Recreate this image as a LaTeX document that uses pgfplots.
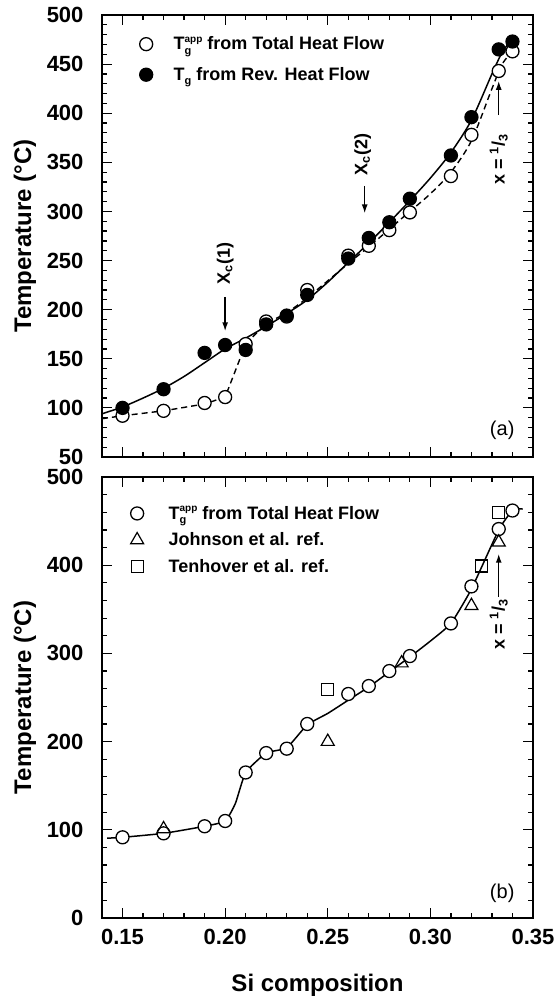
\documentclass[border=0pt]{standalone}
\usepackage{pgfplots}
\pgfplotsset{compat=1.18}
\usepackage{fontspec}
\setmainfont{Liberation Sans}
\usetikzlibrary{arrows.meta}
\newcommand{\Tsubsup}[2]{T\makebox[0pt][l]{\raisebox{-0.45ex}{\fontsize{11}{11}\selectfont #1}}\raisebox{0.8ex}{\fontsize{10}{10}\selectfont #2}}
\newcommand{\Tsub}[1]{T\raisebox{-0.45ex}{\fontsize{11}{11}\selectfont #1}}
\newcommand{\xthird}{x = \textsuperscript{1}/\textsubscript{3}}
\tikzset{
  annot/.style={rotate=90, font=\bfseries\fontsize{18}{18}\selectfont},
  arr/.style={line width=1.5pt, -{Latex[length=9pt,width=6pt]}},
}
\begin{document}
\begin{tikzpicture}
\useasboundingbox (0pt,0pt) rectangle (556pt,-1000pt);
\pgfplotsset{
  common/.style={
    scale only axis, width=431pt, height=442pt,
    xmin=0.14, xmax=0.35,
    xtick={0.15,0.2,0.25,0.3,0.35}, minor x tick num=4,
    axis line style={line width=1.5pt},
    every tick/.style={black, line width=1.2pt},
    major tick length=10pt, minor tick length=5pt,
    tick align=inside,
    xtick pos=both, ytick pos=both,
    tick label style={font=\bfseries\fontsize{22}{22}\selectfont},
    /pgf/number format/assume math mode=true,
    yticklabel style={xshift=-15pt},
    ylabel={Temperature (°C)},
    every axis y label/.style={font=\bfseries\fontsize{24}{24}\selectfont, rotate=90, anchor=center},
    legend cell align=left,
  },
  openc/.style={only marks, mark=*, mark size=6.5pt, mark options={fill=white, draw=black, line width=1.3pt}},
  fullc/.style={only marks, mark=*, mark size=6.5pt, mark options={fill=black, draw=black, line width=1.3pt}},
  tri/.style={only marks, mark=triangle, mark size=7.5pt, mark options={draw=black, line width=1.2pt}},
  sqr/.style={only marks, mark=square, mark size=6pt, mark options={draw=black, line width=1.2pt}},
  fitline/.style={black, line width=1.5pt, smooth, tension=0.5, no marks, forget plot},
}
% ---------------- top panel (a) ----------------
\begin{axis}[common, at={(102pt,-457pt)}, anchor=south west,
  ymin=50, ymax=500, ytick={50,100,...,500}, minor y tick num=4,
  xticklabels={},
  every axis y label/.append style={at={(rel axis cs:-0.179,0.5)}},
  legend style={at={(axis cs:0.1568,482)}, anchor=north west, draw=none, fill=none,
    font=\bfseries\fontsize{18}{18}\selectfont, row sep=12pt,
    /tikz/every odd column/.append style={column sep=19pt}},
]
% fit curve for reversing heat flow
\addplot[fitline] coordinates {
(0.14,94) (0.15,101) (0.16,110) (0.17,120) (0.18,132) (0.19,146) (0.20,160)
(0.21,171) (0.22,183) (0.23,196) (0.24,210) (0.25,228) (0.26,248) (0.27,268)
(0.28,289) (0.29,311) (0.30,334) (0.31,360) (0.32,393) (0.33,440) (0.335,462) (0.34,476)};
% dashed curve for total heat flow
\addplot[black, line width=1.4pt, dash pattern=on 6pt off 4pt, no marks, forget plot] coordinates {
(0.14,89) (0.15,92) (0.17,97) (0.19,104) (0.20,111) (0.21,165)};
\addplot[fitline, dash pattern=on 6pt off 4pt, line width=1.4pt] coordinates {
(0.21,165) (0.22,185) (0.23,197) (0.24,212) (0.26,247) (0.27,264) (0.28,282)
(0.29,300) (0.30,318) (0.31,340) (0.32,372) (0.33,425) (0.335,450) (0.34,463)};
\addplot[openc] coordinates {
(0.15,92) (0.17,97) (0.19,105) (0.20,111) (0.21,165) (0.22,188) (0.23,193)
(0.24,220) (0.26,255) (0.27,265) (0.28,281) (0.29,299) (0.31,336) (0.32,378)
(0.3333,443) (0.34,463)};
\addlegendentry{\Tsubsup{g}{app} from Total Heat Flow}
\addplot[fullc] coordinates {
(0.15,100) (0.17,119) (0.19,156) (0.20,164) (0.21,159) (0.22,185) (0.23,194)
(0.24,215) (0.26,252) (0.27,273) (0.28,289) (0.29,313) (0.31,357) (0.32,396)
(0.3333,465) (0.34,473)};
\addlegendentry{\Tsub{g} from Rev. Heat Flow}
% annotations
\draw[arr] (axis cs:0.20,213) -- (axis cs:0.20,178);
\node[annot] at (axis cs:0.20,247) {X\textsubscript{c}(1)};
\draw[arr] (axis cs:0.268,326) -- (axis cs:0.268,298);
\node[annot] at (axis cs:0.267,358) {X\textsubscript{c}(2)};
\draw[arr] (axis cs:0.3333,398) -- (axis cs:0.3333,433);
\node[annot] at (axis cs:0.3333,353) {\xthird};
\node[font=\fontsize{20}{20}\selectfont] at (axis cs:0.335,77) {(a)};
\end{axis}
% ---------------- bottom panel (b) ----------------
\begin{axis}[common, at={(102pt,-918pt)}, anchor=south west, height=441pt,
  ymin=0, ymax=500, ytick={0,100,...,500}, minor y tick num=4,
  xticklabel style={/pgf/number format/.cd, fixed, fixed zerofill, precision=2, /tikz/.cd, yshift=-8pt},
  every axis y label/.append style={at={(rel axis cs:-0.179,0.5)}},
  xlabel={Si composition},
  every axis x label/.style={font=\bfseries\fontsize{24}{24}\selectfont, at={(rel axis cs:0.5,0)}, anchor=center, yshift=-67pt},
  legend style={at={(axis cs:0.1524,471.7)}, anchor=north west, draw=none, fill=none,
    font=\bfseries\fontsize{18}{18}\selectfont, row sep=8pt,
    /tikz/every odd column/.append style={column sep=23pt}},
]
\addplot[black, line width=1.5pt, smooth, tension=0.3, no marks, forget plot] coordinates {
(0.1425,90.5) (0.15,91.5) (0.17,96) (0.19,104) (0.20,110) (0.205,130) (0.21,165) (0.22,187) (0.23,193)
(0.24,219) (0.25,232) (0.26,247) (0.27,262) (0.28,279) (0.29,296) (0.30,314)
(0.31,334) (0.32,373) (0.3333,440) (0.34,462) (0.345,464)};
\addplot[openc] coordinates {
(0.15,91.5) (0.17,96) (0.19,104) (0.20,110) (0.21,165) (0.22,187) (0.23,192)
(0.24,220) (0.26,254) (0.27,263) (0.28,280) (0.29,297) (0.31,334) (0.32,376)
(0.3333,441) (0.34,462)};
\addlegendentry{\Tsubsup{g}{app} from Total Heat Flow}
\addplot[tri] coordinates {
(0.17,101) (0.25,200) (0.286,289) (0.32,354) (0.3333,426)};
\addlegendentry{Johnson et al. ref.}
\addplot[sqr] coordinates {
(0.25,259) (0.325,399) (0.3333,460)};
\addlegendentry{Tenhover et al. ref.}
\draw[arr] (axis cs:0.3333,364) -- (axis cs:0.3333,413);
\node[annot] at (axis cs:0.3333,333) {\xthird};
\node[font=\fontsize{20}{20}\selectfont] at (axis cs:0.335,28) {(b)};
\end{axis}
\end{tikzpicture}
\end{document}
